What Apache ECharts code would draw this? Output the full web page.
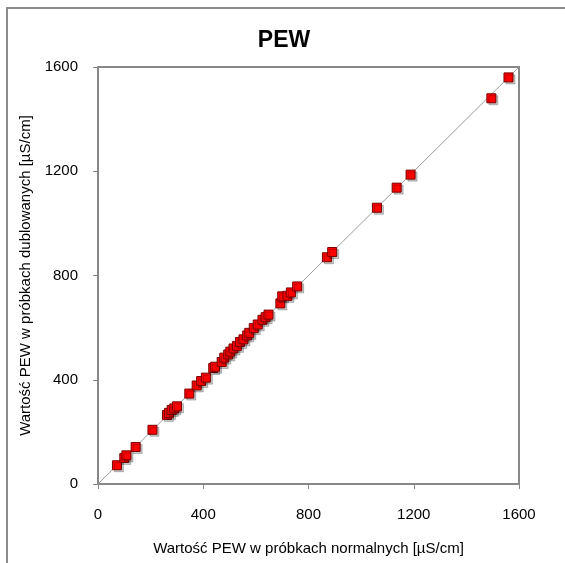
<!DOCTYPE html>
<html>
<head>
<meta charset="utf-8">
<script src="https://cdn.jsdelivr.net/npm/echarts@6/dist/echarts.min.js"></script>
<style>
  html, body { margin: 0; padding: 0; background: #fff; }
  #chart { width: 565px; height: 563px; }
</style>
</head>
<body>
<div id="chart"></div>
<script>
var titleText = 'PEW';
var xName = 'Wartość PEW w próbkach normalnych [µS/cm]';
var yName = 'Wartość PEW w próbkach dublowanych [µS/cm]';
var axisTicks = [0, 400, 800, 1200, 1600];

// wartości: próbka normalna / próbka dublowana
var normalne = [72, 100, 108, 143, 207, 262, 270, 280, 290, 300, 347, 375, 392, 410, 438, 445, 470, 480,
  495, 503, 515, 528, 540, 553, 567, 575, 592, 607, 625, 637, 648, 693, 700, 720, 733, 757, 870, 890,
  1060, 1135, 1188, 1495, 1560];
var dublowane = [72, 100, 110, 142, 208, 265, 273, 284, 290, 298, 347, 378, 395, 408, 445, 450, 468, 485,
  497, 508, 520, 530, 545, 555, 570, 580, 598, 612, 630, 640, 650, 693, 720, 722, 735, 758, 870, 890,
  1060, 1137, 1187, 1480, 1560];
var linia = [[0, 0], [1600, 1600]];

var pts = normalne.map(function (v, i) { return [v, dublowane[i]]; });

var chart = echarts.init(document.getElementById('chart'));

var axisCommon = {
  type: 'value',
  min: axisTicks[0],
  max: axisTicks[axisTicks.length - 1],
  interval: 400,
  nameLocation: 'middle',
  nameTextStyle: { fontFamily: 'Liberation Sans', fontSize: 15, color: '#000' },
  axisLine: { show: true, lineStyle: { color: '#888', width: 2 } },
  axisTick: { show: true, inside: false, length: 5, lineStyle: { color: '#888', width: 1 } },
  axisLabel: {
    fontFamily: 'Liberation Sans', fontSize: 15, color: '#000',
    formatter: function (v) { return String(v); }
  },
  splitLine: { show: false }
};

var option = {
  backgroundColor: '#fff',
  animation: false,
  title: {
    text: titleText,
    left: 279,
    top: 24,
    textAlign: 'center',
    textStyle: { fontFamily: 'Liberation Sans', fontSize: 23, fontWeight: 'bold', color: '#000' }
  },
  graphic: [{
    type: 'rect',
    shape: { x: 7, y: 8, width: 700, height: 700 },
    style: { fill: 'none', stroke: '#8c8c8c', lineWidth: 2 },
    silent: true
  }],
  grid: {
    left: 98, top: 67, right: 46, bottom: 79,
    show: true, borderColor: '#888', borderWidth: 2, backgroundColor: 'transparent'
  },
  xAxis: Object.assign({}, axisCommon, {
    name: xName,
    nameGap: 57,
    axisLabel: Object.assign({}, axisCommon.axisLabel, { margin: 23 })
  }),
  yAxis: Object.assign({}, axisCommon, {
    name: yName,
    nameGap: 64,
    axisLabel: Object.assign({}, axisCommon.axisLabel, { margin: 20 })
  }),
  series: [{
    type: 'line',
    data: linia,
    symbol: 'none',
    lineStyle: { color: '#9a9a9a', width: 1 },
    z: 1
  }, {
    type: 'scatter',
    data: pts,
    symbol: 'rect',
    symbolSize: 9,
    itemStyle: {
      color: '#ff0000',
      borderColor: '#7a0000',
      borderWidth: 1,
      opacity: 1,
      shadowColor: 'rgba(0,0,0,0.22)',
      shadowOffsetX: 2,
      shadowOffsetY: 2,
      shadowBlur: 0
    },
    z: 2
  }]
};

chart.setOption(option);
</script>
</body>
</html>
